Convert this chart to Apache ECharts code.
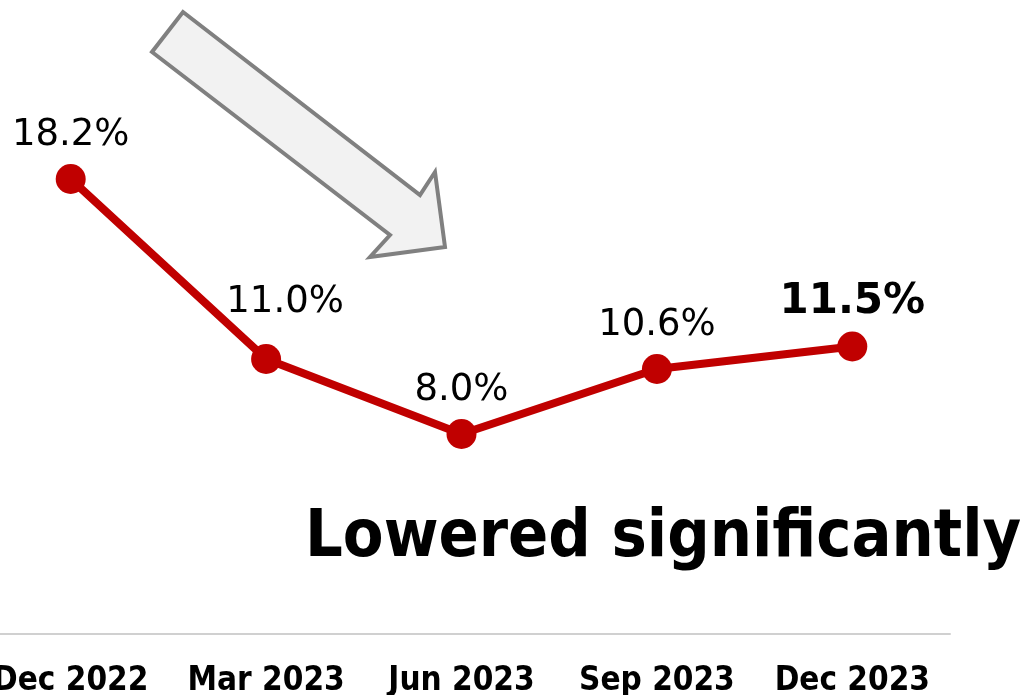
<!DOCTYPE html>
<html>
<head>
<meta charset="utf-8">
<script src="https://cdn.jsdelivr.net/npm/echarts@6/dist/echarts.min.js"></script>
<style>
html,body{margin:0;padding:0;background:#fff;overflow:hidden;width:1028px;height:695px;}
#main{width:1055px;height:695px;margin-left:-27px;}
</style>
</head>
<body>
<div id="main"></div>
<script>
const categories = ['Dec 2022', 'Mar 2023', 'Jun 2023', 'Sep 2023', 'Dec 2023'];
const values = [18.2, 11.0, 8.0, 10.6, 11.5];
const labelTexts = ['18.2%', '11.0%', '8.0%', '10.6%', '11.5%'];
const annotationText = 'Lowered significantly';

const RED = '#c00000';
const SHIFT = 27; // chart canvas is shifted left by this many px
const chart = echarts.init(document.getElementById('main'));

const seriesData = values.map((v, i) => {
  const item = { value: v };
  if (i === 1) item.label = { offset: [19, -13] };
  if (i === 4) item.label = { fontWeight: 'bold', fontSize: 42, offset: [0, 2] };
  return item;
});

const arrowPts = [[183, 12], [420, 195], [435, 172], [445, 247], [370, 257], [390, 235], [152, 52]]
  .map(p => [p[0] + SHIFT, p[1]]);

chart.setOption({
  animation: false,
  grid: { left: 0, right: 78, top: 9, bottom: 61, containLabel: false, outerBoundsMode: 'none' },
  xAxis: {
    type: 'category',
    data: categories,
    boundaryGap: true,
    axisLine: { show: true, lineStyle: { color: '#d0d0d0', width: 2 } },
    axisTick: { show: false },
    axisLabel: {
      show: true,
      interval: 0,
      margin: 31,
      color: '#000',
      fontSize: 33,
      fontWeight: 'bold',
      fontFamily: 'DejaVu Sans Condensed'
    },
    splitLine: { show: false }
  },
  yAxis: {
    type: 'value',
    min: 0,
    max: 25,
    show: false,
    splitLine: { show: false }
  },
  series: [{
    type: 'line',
    data: seriesData,
    symbol: 'circle',
    symbolSize: 30,
    itemStyle: { color: RED },
    lineStyle: { color: RED, width: 8 },
    label: {
      show: true,
      position: 'top',
      distance: 10,
      color: '#000',
      fontSize: 37,
      fontFamily: 'DejaVu Sans',
      formatter: p => labelTexts[p.dataIndex]
    }
  }],
  graphic: [
    {
      type: 'polygon',
      shape: { points: arrowPts },
      style: { fill: '#f2f2f2', stroke: '#808080', lineWidth: 4, lineJoin: 'miter' },
      z: 1
    },
    {
      type: 'text',
      left: 305 + SHIFT,
      top: 506,
      style: {
        text: annotationText,
        fill: '#000',
        font: 'bold 66px "DejaVu Sans Condensed"'
      },
      z: 10
    }
  ]
});
</script>
</body>
</html>
